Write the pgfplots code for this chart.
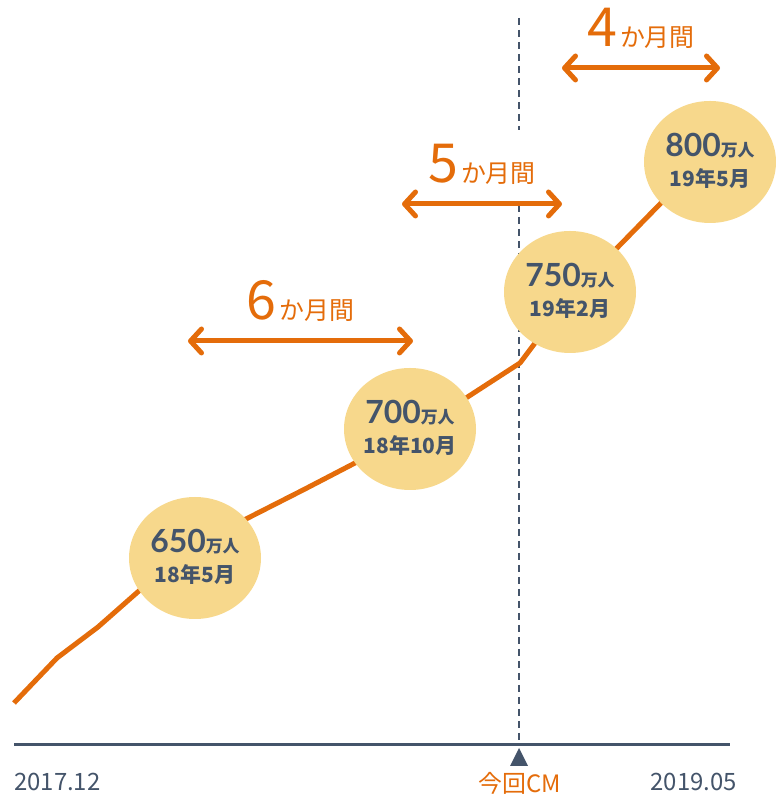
\documentclass[border=0pt]{standalone}
\usepackage{fontspec}
\setmainfont{Noto Sans CJK JP}
\newfontfamily\lato{Lato}
\usepackage{pgfplots}
\pgfplotsset{compat=1.18}
\usetikzlibrary{arrows.meta}
\definecolor{cmorange}{HTML}{E46C0A}
\definecolor{bubble}{HTML}{F7D88C}
\definecolor{slate}{HTML}{44546A}

% bubble: x, y, value, date
\newcommand{\bubble}[4]{%
  \fill[bubble] (axis cs:#1,#2) ellipse [x radius=66, y radius=61];
  \node[anchor=base, text=slate, inner sep=0pt] at (axis cs:#1,#2+5)
    {{\lato\bfseries\fontsize{32}{32}\selectfont #3}{\bfseries\fontsize{17}{17}\selectfont 万人}};
  \node[anchor=base, text=slate, inner sep=0pt] at (axis cs:#1,#2-25)
    {\bfseries\fontsize{21}{21}\selectfont #4};
}
\newcommand{\gap}[4]{% x1, x2, y, digit
  \draw[cmorange, line width=5bp,
    {Straight Barb[length=11bp,width=24bp,round]}-{Straight Barb[length=11bp,width=24bp,round]}]
    (axis cs:#1,#3) -- (axis cs:#2,#3);
  \node[anchor=base, text=cmorange, inner sep=0pt] at (axis cs:{(#1+#2)/2},#3+21)
    {\fontsize{54}{54}\selectfont #4\hspace{3bp}\fontsize{25}{25}\selectfont か月間};
}

\begin{document}
\begin{tikzpicture}
\begin{axis}[
    scale only axis,
    width=773bp, height=796bp,
    xmin=0, xmax=773, ymin=0, ymax=796,
    hide axis,
    clip=false,
]
\path (axis cs:0,0) rectangle (axis cs:773,796);

% CM marker line
\draw[slate, line width=2bp, dash pattern=on 7bp off 5bp] (axis cs:519,778) -- (axis cs:519,666);
\draw[slate, line width=2bp, dash pattern=on 7bp off 5bp] (axis cs:519,591) -- (axis cs:519,51);

% baseline
\draw[slate, line width=3bp] (axis cs:14,51) -- (axis cs:730,51);
\fill[slate] (axis cs:519,48) -- (axis cs:510,30) -- (axis cs:528,30) -- cycle;

% subscribers
\addplot[cmorange, line width=5bp, line join=round] coordinates {
  (14,93) (57,138) (98,169) (140,206) (195,245) (246,277) (305,307) (355,333)
  (410,368) (466,398) (520,433) (535,453) (570,503) (617,548) (662,594) (710,634)
};

\bubble{195}{238}{650}{18年5月}
\bubble{410}{367}{700}{18年10月}
\bubble{570}{504}{750}{19年2月}
\bubble{710}{634}{800}{19年5月}

\gap{188}{413}{455}{6}
\gap{402}{562}{592}{5}
\gap{562}{720}{728}{4}

\node[anchor=base west, text=slate, inner sep=0pt] at (axis cs:14,6)
  {\fontsize{24}{24}\selectfont 2017.12};
\node[anchor=base east, text=slate, inner sep=0pt] at (axis cs:737,6)
  {\fontsize{24}{24}\selectfont 2019.05};
\node[anchor=base, text=cmorange, inner sep=0pt] at (axis cs:520,4)
  {\fontsize{24}{24}\selectfont 今回CM};
\end{axis}
\end{tikzpicture}
\end{document}
